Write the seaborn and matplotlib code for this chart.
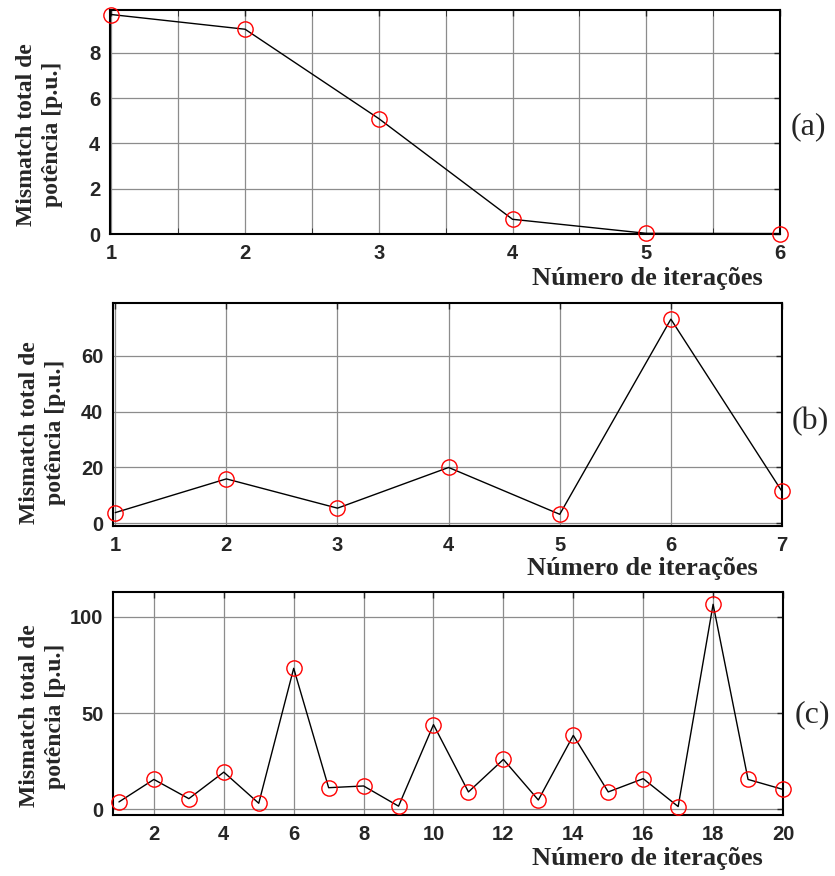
import numpy as np
import matplotlib
matplotlib.use("Agg")
import matplotlib.pyplot as plt
from matplotlib.ticker import MultipleLocator
import seaborn as sns

sns.set_style("white")

# values
iter_a = [1, 2, 3, 4, 5, 6]
mism_a = [9.7, 9.05, 5.1, 0.65, 0.03, 0.02]

iter_b = [1, 2, 3, 4, 5, 6, 7]
mism_b = [3.8, 15.9, 5.4, 20.0, 3.2, 73.2, 11.4]

iter_c = list(range(1, 21))
mism_c = [3.8, 15.5, 5.5, 19.3, 3.1, 73.3, 11.2, 12.1, 1.6, 44.0,
          9.0, 25.9, 4.8, 38.4, 9.0, 15.9, 1.4, 106.6, 15.5, 10.3]

panel_tags = ["(a)", "(b)", "(c)"]
ylabel = "Mismatch total de\npotência [p.u.]"
xlabel = "Número de iterações"

serif = "Liberation Serif"
sans = "Liberation Sans"

fig = plt.figure(figsize=(8.35, 8.76), dpi=100)
W, H = 835, 876


def add_ax(left, top, right, bottom):
    return fig.add_axes([left / W, 1 - bottom / H, (right - left) / W, (bottom - top) / H])


axes = [add_ax(110, 10, 780, 234), add_ax(113, 303, 782, 526), add_ax(113, 592, 783, 815)]
data = [(iter_a, mism_a), (iter_b, mism_b), (iter_c, mism_c)]
xlims = [(0.99, 6.0), (0.98, 7.0), (0.83, 20.0)]
ylims = [(0, 9.9), (-1, 79), (-3, 113)]
yticks = [[0, 2, 4, 6, 8], [0, 20, 40, 60], [0, 50, 100]]
xticks = [iter_a, iter_b, list(range(2, 21, 2))]
xlab_pos = [(0.975, -0.147), (0.964, -0.139), (0.970, -0.143)]
ylab_y = [0.444, 0.42, 0.444]
tag_pos = [(808, 127), (810, 422), (812, 715)]

for i, ax in enumerate(axes):
    x, y = data[i]
    sns.lineplot(x=x, y=y, ax=ax, color="black", lw=1, marker="o", markersize=11,
                 markerfacecolor="none", markeredgecolor="red", markeredgewidth=1,
                 clip_on=False, zorder=3)
    ax.set_xlim(*xlims[i])
    ax.set_ylim(*ylims[i])
    ax.set_xticks(xticks[i])
    ax.set_yticks(yticks[i])
    if i == 0:
        ax.xaxis.set_minor_locator(MultipleLocator(0.5))
        ax.grid(True, which="minor", axis="x", color="#8c8c8c", lw=0.9)
    ax.grid(True, which="major", color="#8c8c8c", lw=0.9)
    ax.set_axisbelow(True)
    ax.tick_params(direction="in", top=True, right=True, length=4, width=1,
                   labelsize=14.5, pad=7)
    ax.tick_params(which="minor", direction="in", top=True, bottom=True, length=4)
    for lab in ax.get_xticklabels() + ax.get_yticklabels():
        lab.set_fontfamily(sans)
        lab.set_fontweight("bold")
    for sp in ax.spines.values():
        sp.set_color("black")
        sp.set_linewidth(1.5)
    ax.set_ylabel(ylabel, fontfamily=serif, fontweight="bold", fontsize=17,
                  linespacing=1.3)
    ax.yaxis.set_label_coords(-0.07, ylab_y[i])
    ax.set_xlabel(xlabel, fontfamily=serif, fontweight="bold", fontsize=19, ha="right")
    ax.xaxis.set_label_coords(*xlab_pos[i])
    fig.text(tag_pos[i][0] / W, 1 - tag_pos[i][1] / H, panel_tags[i], fontfamily=serif,
             fontsize=23, ha="center", va="center")

fig.savefig("out.png", dpi=100)
